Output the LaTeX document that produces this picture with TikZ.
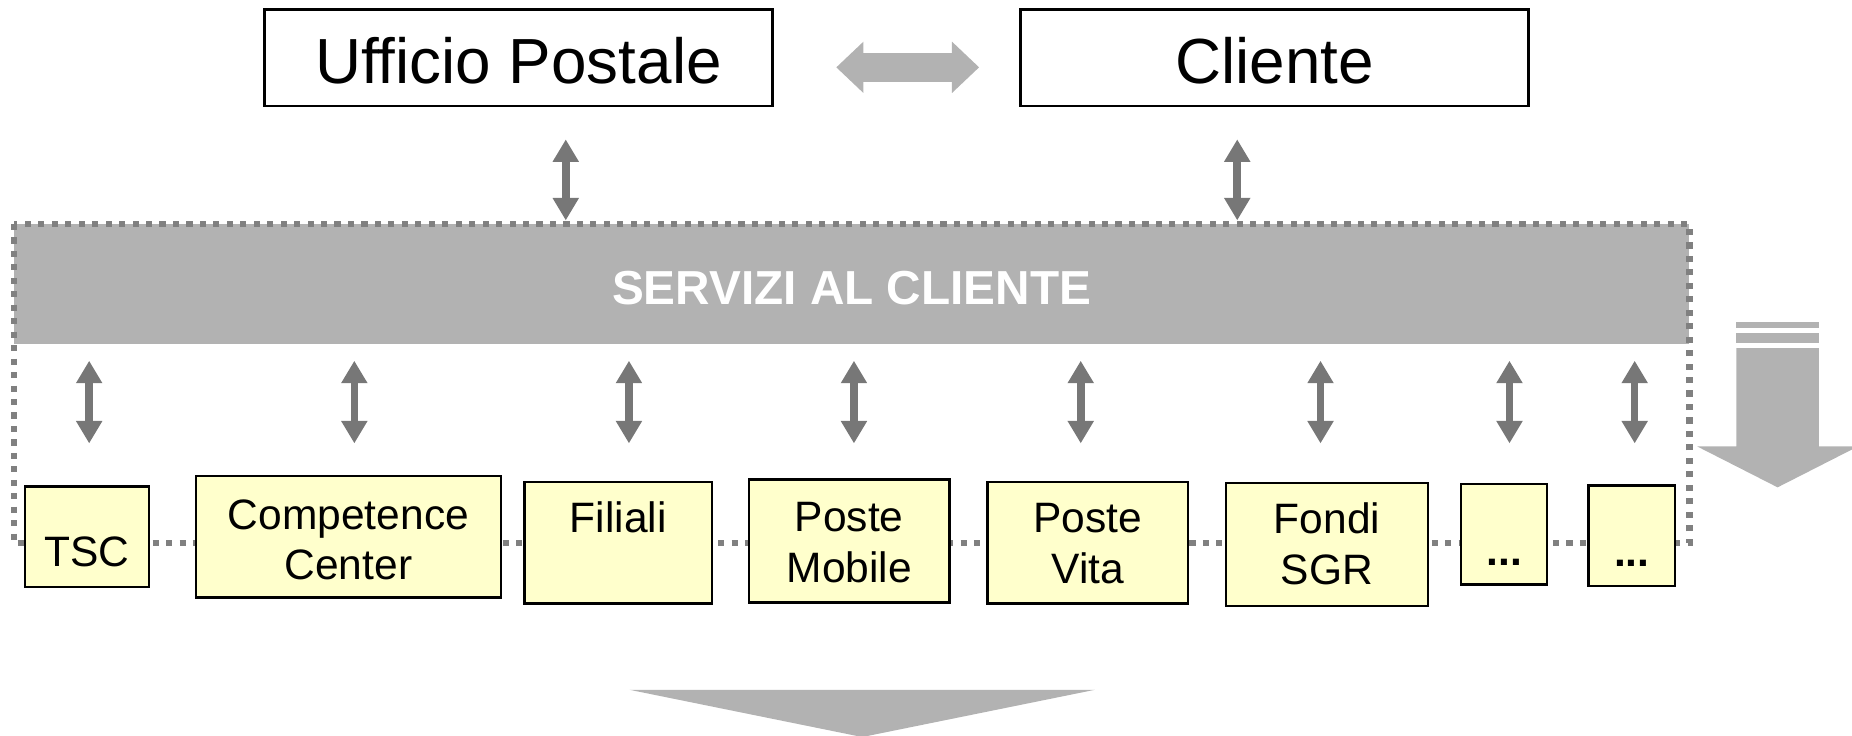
\documentclass[tikz,border=0pt]{standalone}
\usepackage{fontspec}
\setmainfont{Liberation Sans}
\usetikzlibrary{arrows.meta,calc}
\definecolor{bargray}{HTML}{B2B2B2}
\definecolor{arrowgray}{HTML}{777777}
\definecolor{dotgray}{HTML}{808080}
\definecolor{boxyellow}{HTML}{FFFFCC}
\newcommand{\stackpair}[2]{\begin{tabular}[t]{@{}c@{}}#1\\#2\end{tabular}}
\begin{document}
\begin{tikzpicture}[x=0.5pt,y=-0.5pt,
  topbox/.style={draw=black, line width=1pt, fill=white, minimum width=215pt,
    minimum height=41pt, inner sep=0pt, text height=22pt, text depth=0pt,
    font=\fontsize{27}{32}\selectfont},
  unitbox/.style={draw=black, line width=1pt, fill=boxyellow, inner sep=0pt,
    font=\fontsize{18}{21.5}\selectfont},
  dualarrow/.style={draw=arrowgray, line width=3.2pt,
    {Triangle[width=10.5pt,length=9.5pt]}-{Triangle[width=10.5pt,length=9.5pt]}},
  widearrow/.style={draw=bargray, line width=12pt,
    {Triangle[width=21pt,length=11.5pt]}-{Triangle[width=21pt,length=11.5pt]}},
  dotline/.style={draw=dotgray, line width=2.6pt, dash pattern=on 2.6pt off 3.1pt},
  bigshape/.style={fill=bargray, draw=none}
]
\useasboundingbox (0,0) rectangle (1568,623);

% top boxes
\node[topbox] (uff) at (439,49) {Ufficio Postale};
\node[topbox] (cli) at (1079,49) {Cliente};
\draw[widearrow, shorten <=26.5pt, shorten >=17pt]
  ([yshift=-4pt]uff.east) -- ([yshift=-4pt]cli.west);

% services bar
\node[fill=bargray, minimum width=709pt, minimum height=50.5pt, inner sep=0pt,
  text height=17.5pt, text depth=0pt, text=white,
  font=\fontsize{20.2}{24}\selectfont\bfseries] (bar) at (721,240.5) {SERVIZI AL CLIENTE};

% dotted frame
\draw[dotline] (bar.north west) rectangle ($(bar.north east)+(0,270)$);

% top connectors
\draw[dualarrow] ($(uff.south)+(40,27)$) -- ($(uff.south |- bar.north)+(40,-3)$);
\draw[dualarrow] ($(cli.south)+(-31.5,27)$) -- ($(cli.south |- bar.north)+(-31.5,-3)$);

% unit boxes
\node[unitbox, minimum width=52.5pt, minimum height=42.5pt, text height=25.5pt, text depth=0pt]
  (tsc) at (73.5,454.5) {TSC};
\node[unitbox, minimum width=129pt, minimum height=51.5pt, text height=0pt, text depth=6.5pt]
  (cc) at (295,454.5) {\stackpair{Competence}{Center}};
\node[unitbox, minimum width=79.5pt, minimum height=51.5pt, text height=0pt, text depth=8.5pt]
  (fil) at (523.5,459.5) {Filiali};
\node[unitbox, minimum width=85pt, minimum height=52pt, text height=0pt, text depth=8pt]
  (pm) at (719,458) {\stackpair{Poste}{Mobile}};
\node[unitbox, minimum width=85pt, minimum height=51.5pt, text height=0pt, text depth=8.5pt]
  (pv) at (921,459.5) {\stackpair{Poste}{Vita}};
\node[unitbox, minimum width=85.5pt, minimum height=52pt, text height=0pt, text depth=9pt]
  (fs) at (1123.5,461) {\stackpair{Fondi}{SGR}};
\node[unitbox, minimum width=36.5pt, minimum height=42.5pt, text height=26.5pt, text depth=0pt]
  (d1) at (1273.5,452.5) {\textbf{...}};
\node[unitbox, minimum width=36.5pt, minimum height=42.5pt, text height=26.5pt, text depth=0pt]
  (d2) at (1381.5,453.5) {\textbf{...}};

% bottom connectors
\foreach \b/\dx in {tsc/2, cc/5, fil/9, pm/4, pv/-6, fs/-5.5, d1/4.5, d2/2.5} {
  \draw[dualarrow] ($(\b.north |- bar.south)+(\dx,14)$) -- ($(\b.north |- bar.south)+(\dx,84)$);
}

% right big arrow
\fill[bigshape] (1470,272.6) rectangle (1540,277.5);
\fill[bigshape] (1470,281.5) rectangle (1540,290.5);
\fill[bigshape] (1470,294.7) -- (1540,294.7) -- (1540,378) -- (1573,378)
  -- (1505,412.6) -- (1437,378) -- (1470,378) -- cycle;

% bottom big arrow
\fill[bigshape] (533,584) -- (927,584) -- (730,624) -- cycle;
\end{tikzpicture}
\end{document}
